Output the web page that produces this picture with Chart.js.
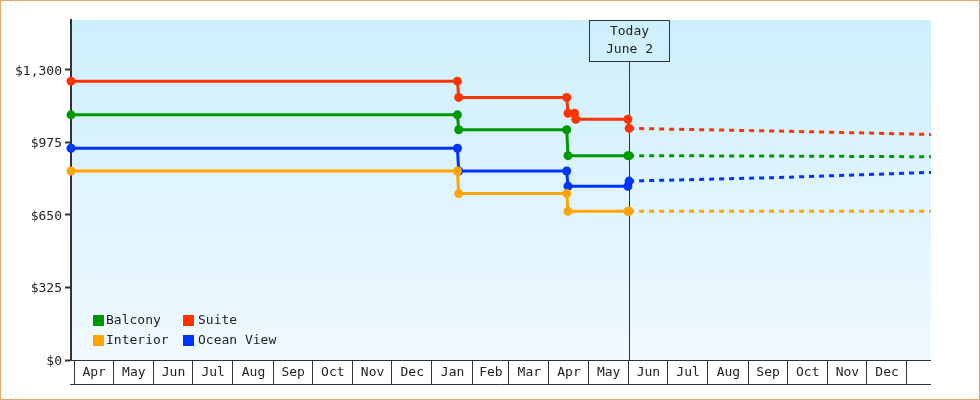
<!DOCTYPE html>
<html>
<head>
<meta charset="utf-8">
<script src="https://cdn.jsdelivr.net/npm/chart.js@4.4.1/dist/chart.umd.min.js"></script>
<style>
  html, body { margin: 0; padding: 0; background: #fff; }
  #frame { width: 980px; height: 400px; box-sizing: border-box; border: 1px solid #e6a86e; }
  #chart { display: block; }
</style>
</head>
<body>
<div id="frame"><canvas id="chart" width="978" height="398"></canvas></div>
<script>
// days are counted from the first April 1st on the axis
const monthLabels = ['Apr', 'May', 'Jun', 'Jul', 'Aug', 'Sep', 'Oct', 'Nov', 'Dec', 'Jan', 'Feb', 'Mar',
    'Apr', 'May', 'Jun', 'Jul', 'Aug', 'Sep', 'Oct', 'Nov', 'Dec'];
const monthStarts = [0, 30, 61, 91, 122, 153, 183, 214, 244, 275, 306, 334,
    365, 395, 426, 456, 487, 518, 548, 579, 609, 640];
const yTicks = [0, 325, 650, 975, 1300];

const todayDay = 427;
const todayText = ['Today', 'June 2'];

const priceDays = [-2, 295, 296, 379, 380, 426, 427];
const suiteDays = [-2, 295, 296, 379, 380, 385, 386, 426, 427];
const balconyPrices = [1099, 1099, 1032, 1032, 916, 916, 916];
const suitePrices = [1250, 1250, 1177, 1177, 1106, 1106, 1079, 1079, 1038];
const interiorPrices = [847, 847, 746, 746, 667, 667, 667];
const oceanPrices = [949, 949, 847, 847, 779, 779, 802];

const forecastDays = [427, 543, 659];
const balconyForecast = [916, 914, 911];
const suiteForecast = [1038, 1026, 1011];
const interiorForecast = [667, 667, 667];
const oceanForecast = [802, 818, 841];

const FONT = '"DejaVu Sans Mono", monospace';
const INK = '#222';
const AXIS = '#333';

const series = [
    { label: 'Balcony', color: '#009a00', days: priceDays, prices: balconyPrices, forecast: balconyForecast },
    { label: 'Suite', color: '#ff3300', days: suiteDays, prices: suitePrices, forecast: suiteForecast },
    { label: 'Interior', color: '#ffa500', days: priceDays, prices: interiorPrices, forecast: interiorForecast },
    { label: 'Ocean View', color: '#0033ff', days: priceDays, prices: oceanPrices, forecast: oceanForecast }
];

function toPoints(days, values) {
    return days.map((d, i) => ({ x: d, y: values[i] }));
}

const datasets = [];
series.forEach(s => {
    datasets.push({
        label: s.label,
        data: toPoints(s.days, s.prices),
        borderColor: s.color,
        backgroundColor: s.color,
        borderWidth: 3,
        pointRadius: 4.5,
        pointBorderWidth: 0,
        pointBackgroundColor: s.color,
        clip: false,
        order: 1
    });
    datasets.push({
        label: s.label + ' forecast',
        data: toPoints(forecastDays, s.forecast),
        borderColor: s.color,
        borderWidth: 3,
        borderDash: [5, 5],
        pointRadius: 0,
        order: 2
    });
});

const chartDecor = {
    id: 'chartDecor',
    beforeDraw(chart) {
        const { ctx, chartArea: a } = chart;
        const grad = ctx.createLinearGradient(0, a.top, 0, a.bottom);
        grad.addColorStop(0, '#cdeffc');
        grad.addColorStop(1, '#f0f9ff');
        ctx.save();
        ctx.fillStyle = grad;
        ctx.fillRect(a.left, a.top, a.right - a.left, a.bottom - a.top);
        ctx.restore();
    },
    beforeDatasetsDraw(chart) {
        // today marker line and label box
        const { ctx, chartArea: a } = chart;
        const x = chart.scales.x;
        const px = Math.round(x.getPixelForValue(todayDay)) + 0.5;
        const boxTop = a.top + 0.5;
        const boxBottom = a.top + 41.5;
        ctx.save();
        ctx.strokeStyle = AXIS;
        ctx.lineWidth = 1;
        ctx.beginPath();
        ctx.moveTo(px, boxBottom);
        ctx.lineTo(px, a.bottom);
        ctx.stroke();
        ctx.strokeRect(px - 40, boxTop, 80, boxBottom - boxTop);
        ctx.fillStyle = INK;
        ctx.font = '13px ' + FONT;
        ctx.textAlign = 'center';
        ctx.textBaseline = 'middle';
        ctx.fillText(todayText[0], px, a.top + 12);
        ctx.fillText(todayText[1], px, a.top + 30);
        ctx.restore();
    },
    afterDraw(chart) {
        const { ctx, chartArea: a } = chart;
        const x = chart.scales.x;
        const top = a.bottom + 0.5;
        const bottom = a.bottom + 24.5;
        ctx.save();
        ctx.strokeStyle = AXIS;
        ctx.lineWidth = 1;
        ctx.beginPath();
        ctx.moveTo(a.left - 1, top);
        ctx.lineTo(a.right, top);
        ctx.moveTo(a.left - 1, bottom);
        ctx.lineTo(a.right, bottom);
        monthStarts.forEach(d => {
            const px = Math.round(x.getPixelForValue(d)) + 0.5;
            ctx.moveTo(px, top);
            ctx.lineTo(px, bottom);
        });
        ctx.stroke();

        ctx.fillStyle = INK;
        ctx.font = '13px ' + FONT;
        ctx.textAlign = 'center';
        ctx.textBaseline = 'middle';
        monthLabels.forEach((m, i) => {
            const mid = (x.getPixelForValue(monthStarts[i]) + x.getPixelForValue(monthStarts[i + 1])) / 2;
            ctx.fillText(m, mid + 1, a.bottom + 13);
        });

        // legend, two columns inside the plot
        ctx.textAlign = 'left';
        series.forEach((s, i) => {
            const col = i % 2;
            const row = Math.floor(i / 2);
            const lx = a.left + 22 + col * 90;
            const ly = a.bottom - 45 + row * 20;
            ctx.fillStyle = s.color;
            ctx.fillRect(lx, ly, 11, 11);
            ctx.fillStyle = INK;
            ctx.fillText(s.label, lx + 13 + col * 2, ly + 5.5);
        });
        ctx.restore();
    }
};

new Chart(document.getElementById('chart'), {
    type: 'line',
    data: { datasets },
    options: {
        responsive: false,
        animation: false,
        events: [],
        layout: { padding: { top: 19, right: 48, bottom: 39, left: 0 } },
        elements: { line: { tension: 0 } },
        plugins: {
            legend: { display: false },
            tooltip: { enabled: false }
        },
        scales: {
            x: {
                type: 'linear',
                min: -2,
                max: 659,
                display: false
            },
            y: {
                min: 0,
                max: 1524,
                afterBuildTicks: scale => {
                    scale.ticks = yTicks.map(v => ({ value: v }));
                },
                afterFit: scale => {
                    scale.width = 70;
                },
                grid: {
                    drawOnChartArea: false,
                    drawTicks: true,
                    tickLength: 6,
                    tickColor: AXIS,
                    tickWidth: 2
                },
                border: { display: true, color: AXIS, width: 2 },
                ticks: {
                    padding: 3,
                    labelOffset: 1.5,
                    color: INK,
                    font: { family: FONT, size: 13 },
                    callback: v => '$' + v.toLocaleString('en-US')
                }
            }
        }
    },
    plugins: [chartDecor]
});
</script>
</body>
</html>
